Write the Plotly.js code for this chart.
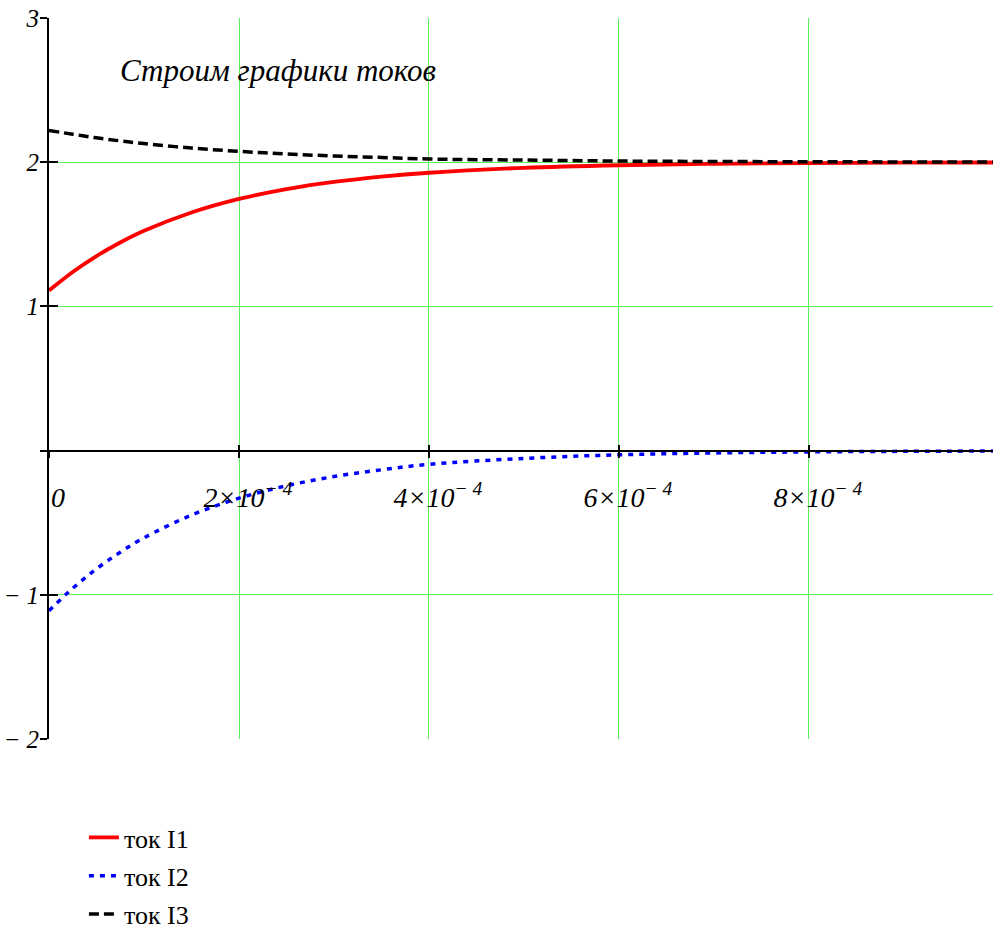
<!DOCTYPE html>
<html>
<head>
<meta charset="utf-8">
<script src="https://cdn.plot.ly/plotly-3.0.1.min.js"></script>
<style>html,body{margin:0;padding:0;background:#fff;}#chart{width:993px;height:931px;}</style>
</head>
<body>
<div id="chart"></div>
<script>
// time, seconds
const t  = [0, 0.25e-4, 0.5e-4, 0.75e-4, 1e-4, 1.5e-4, 2e-4, 2.5e-4, 3e-4, 3.5e-4, 4e-4, 5e-4, 6e-4, 7e-4, 8e-4, 9e-4, 10e-4];
const i1 = [1.11, 1.239, 1.349, 1.443, 1.524, 1.651, 1.745, 1.813, 1.863, 1.900, 1.927, 1.961, 1.979, 1.989, 1.994, 1.997, 1.998];
const i2 = [-1.11, -0.955, -0.82, -0.705, -0.605, -0.447, -0.33, -0.244, -0.18, -0.133, -0.095, -0.054, -0.029, -0.016, -0.009, -0.005, -0.003];
const i3 = [2.22, 2.194, 2.169, 2.148, 2.129, 2.098, 2.075, 2.057, 2.043, 2.033, 2.022, 2.015, 2.008, 2.005, 2.003, 2.002, 2.001];
const seriesNames = ['ток I1', 'ток I2', 'ток I3'];
const xTickVals = [0, 2e-4, 4e-4, 6e-4, 8e-4];
const xTickText = ['0', '2×10<sup>− 4</sup>', '4×10<sup>− 4</sup>', '6×10<sup>− 4</sup>', '8×10<sup>− 4</sup>'];
const yTickVals = [-2, -1, 0, 1, 2, 3];
const yTickText = ['− 2', '− 1', '', '1', '2', '3'];
const titleText = 'Строим графики токов';

const serif = "'Liberation Serif', 'Times New Roman', serif";
const green = 'rgb(90,240,90)';

const traces = [
  {x: t, y: i1, name: seriesNames[0], mode: 'lines', line: {color: '#ff0000', width: 3.8, shape: 'spline'}, legendgroup: 'a', hoverinfo: 'skip'},
  {x: t, y: i2, name: seriesNames[1], mode: 'lines', line: {color: '#0000ff', width: 3.5, dash: '5px,6px', shape: 'spline'}, legendgroup: 'b', hoverinfo: 'skip'},
  {x: t, y: i3, name: seriesNames[2], mode: 'lines', line: {color: '#000000', width: 3.5, dash: '10px,5px', shape: 'spline'}, legendgroup: 'c', hoverinfo: 'skip'},
  {x: t, y: i1, xaxis: 'x2', yaxis: 'y2', mode: 'none', showlegend: false, hoverinfo: 'skip'}
];

const layout = {
  width: 993, height: 931,
  margin: {l: 49, r: 0, t: 18, b: 192, autoexpand: false},
  paper_bgcolor: '#fff', plot_bgcolor: '#fff',
  font: {family: serif, color: '#000'},
  showlegend: true,
  xaxis: {
    range: [0, 0.0009937], tickvals: xTickVals, ticktext: xTickText,
    anchor: 'free', position: 0.4,
    showgrid: true, gridcolor: green, gridwidth: 1, zeroline: false,
    showline: true, linecolor: '#000', linewidth: 2,
    ticks: 'outside', ticklen: 6, tickwidth: 2, tickcolor: '#000',
    ticklabelstandoff: 16, ticklabelshift: 9,
    tickfont: {family: serif, size: 28, style: 'italic', color: '#000'}
  },
  yaxis: {
    range: [-2, 3], tickvals: yTickVals, ticktext: yTickText,
    showgrid: true, gridcolor: green, gridwidth: 1, zeroline: false,
    showline: true, linecolor: '#000', linewidth: 2,
    ticks: 'outside', ticklen: 7, tickwidth: 2, tickcolor: '#000',
    ticklabelstandoff: -4,
    tickfont: {family: serif, size: 25, style: 'italic', color: '#000'}
  },
  xaxis2: {
    overlaying: 'x', matches: 'x', anchor: 'free', position: 0.4,
    tickvals: xTickVals, showticklabels: false, showgrid: false, zeroline: false,
    showline: false, ticks: 'inside', ticklen: 6, tickwidth: 2, tickcolor: '#000'
  },
  yaxis2: {
    overlaying: 'y', matches: 'y', anchor: 'x2', side: 'left',
    tickvals: yTickVals, showticklabels: false, showgrid: false, zeroline: false,
    showline: false, ticks: 'inside', ticklen: 9, tickwidth: 2, tickcolor: '#000'
  },
  legend: {
    x: 0.037, xanchor: 'left', y: -0.104, yanchor: 'top',
    font: {family: serif, size: 26, color: '#000'},
    bgcolor: 'rgba(0,0,0,0)', tracegroupgap: 1.5
  },
  annotations: [{
    text: titleText, xref: 'paper', yref: 'paper', x: 0.2426, y: 0.9265,
    xanchor: 'center', yanchor: 'middle', showarrow: false,
    font: {family: serif, size: 31, style: 'italic', color: '#000'}
  }]
};

Plotly.newPlot('chart', traces, layout, {displayModeBar: false, staticPlot: true});
</script>
</body>
</html>
